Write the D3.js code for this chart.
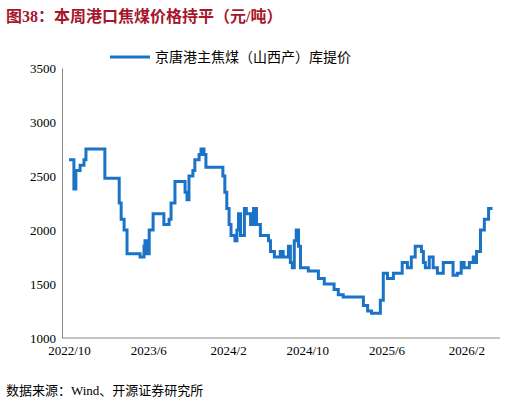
<!DOCTYPE html>
<html><head><meta charset="utf-8">
<script src="https://cdn.jsdelivr.net/npm/d3@7"></script>
<style>body{margin:0;background:#fff}</style>
</head><body>
<div id="chart"></div>
<script>
const dates = ["2022-10-01","2022-10-16","2022-10-22","2022-11-04","2022-11-16","2022-11-22","2023-01-19","2023-03-04","2023-03-10","2023-03-19","2023-03-28","2023-04-04","2023-05-07","2023-05-19","2023-05-22","2023-05-28","2023-06-04","2023-06-16","2023-07-19","2023-08-04","2023-08-10","2023-08-22","2023-09-22","2023-09-28","2023-10-04","2023-10-16","2023-10-22","2023-11-04","2023-11-10","2023-11-19","2023-11-25","2024-01-16","2024-01-22","2024-01-28","2024-02-04","2024-02-10","2024-02-22","2024-02-28","2024-03-04","2024-03-10","2024-03-22","2024-03-28","2024-04-10","2024-04-19","2024-04-28","2024-05-10","2024-06-04","2024-06-10","2024-06-22","2024-07-10","2024-07-19","2024-08-04","2024-08-10","2024-08-16","2024-08-22","2024-08-28","2024-09-04","2024-09-10","2024-10-04","2024-11-04","2024-11-22","2024-12-22","2025-01-04","2025-01-19","2025-03-22","2025-04-04","2025-04-16","2025-05-13","2025-05-22","2025-06-04","2025-06-22","2025-07-19","2025-08-04","2025-08-16","2025-08-28","2025-09-16","2025-09-22","2025-09-28","2025-10-10","2025-10-22","2025-11-04","2025-11-22","2025-12-22","2026-01-04","2026-01-16","2026-01-25","2026-02-10","2026-02-22","2026-02-28","2026-03-04","2026-03-16","2026-03-28","2026-04-10","2026-04-22"];
const prices = [2650,2380,2550,2600,2650,2750,2480,2250,2100,2000,1780,1780,1750,1850,1900,1780,2000,2150,2050,2100,2250,2450,2350,2280,2500,2550,2650,2700,2750,2700,2580,2500,2350,2200,2050,1950,1900,2000,2150,1950,2200,2150,2050,2200,2050,1950,1900,1800,1750,1800,1750,1850,1700,1650,1900,2000,1850,1650,1620,1550,1500,1450,1400,1380,1300,1250,1230,1350,1600,1550,1600,1700,1650,1750,1850,1800,1700,1650,1750,1650,1600,1700,1580,1600,1700,1650,1700,1750,1700,1800,2000,2100,2200,2200];
const tickDates = ["2022-10-01","2023-06-01","2024-02-01","2024-10-01","2025-06-01","2026-02-01"];
const tickLabels = ["2022/10","2023/6","2024/2","2024/10","2025/6","2026/2"];
const yTicks = [1000,1500,2000,2500,3000,3500];
const seriesName = "京唐港主焦煤（山西产）库提价";

const W = 522, H = 405;
const margin = {top: 68, right: 22, bottom: 67, left: 62};
const parse = d3.timeParse("%Y-%m-%d");
const data = dates.map((d, i) => ({date: parse(d), v: prices[i]}));

const svg = d3.select("#chart").append("svg").attr("width", W).attr("height", H)
  .style("font-family", "'Times New Roman', 'Liberation Serif', serif");

svg.append("text").attr("x", 6).attr("y", 22)
  .attr("fill", "#a5172a").attr("font-size", 16).attr("font-weight", "bold")
  .style("font-family", "'Liberation Serif','Noto Sans CJK SC'")
  .text("图38：本周港口焦煤价格持平（元/吨）");

const x = d3.scaleTime()
  .domain([parse("2022-10-01"), parse("2026-05-15")])
  .range([margin.left + 7, W - margin.right]);
const y = d3.scaleLinear().domain([1000, 3500]).range([H - margin.bottom, margin.top]);

const g = svg.append("g");
g.append("g").attr("transform", `translate(0,${H - margin.bottom})`)
  .call(d3.axisBottom(x).tickValues(tickDates.map(parse))
    .tickFormat((d, i) => tickLabels[i]).tickSize(0).tickPadding(8))
  .call(a => a.select(".domain").attr("d", `M${margin.left},0H${W - margin.right}`).attr("stroke", "#888"))
  .selectAll("text").attr("font-size", 13).attr("fill", "#000")
  .style("font-family", "'Liberation Serif', serif");

g.append("g").attr("transform", `translate(${margin.left},0)`)
  .call(d3.axisLeft(y).tickValues(yTicks).tickFormat(d3.format("d")).tickSize(0).tickPadding(6))
  .call(a => a.select(".domain").attr("stroke", "#888"))
  .selectAll("text").attr("font-size", 13).attr("fill", "#000")
  .style("font-family", "'Liberation Serif', serif");

const line = d3.line().x(d => x(d.date)).y(d => y(d.v)).curve(d3.curveStepAfter);
g.append("path").datum(data).attr("d", line)
  .attr("fill", "none").attr("stroke", "#1a73c6").attr("stroke-width", 3);

// legend
svg.append("line").attr("x1", 110).attr("x2", 150).attr("y1", 57).attr("y2", 57)
  .attr("stroke", "#1a73c6").attr("stroke-width", 3);
svg.append("text").attr("x", 155).attr("y", 62).attr("font-size", 14)
  .style("font-family", "'Noto Sans CJK SC'").text(seriesName);

svg.append("text").attr("x", 6).attr("y", 395).attr("font-size", 13)
  .style("font-family", "'Liberation Serif','Noto Sans CJK SC'")
  .text("数据来源：Wind、开源证券研究所");
</script>
</body></html>
